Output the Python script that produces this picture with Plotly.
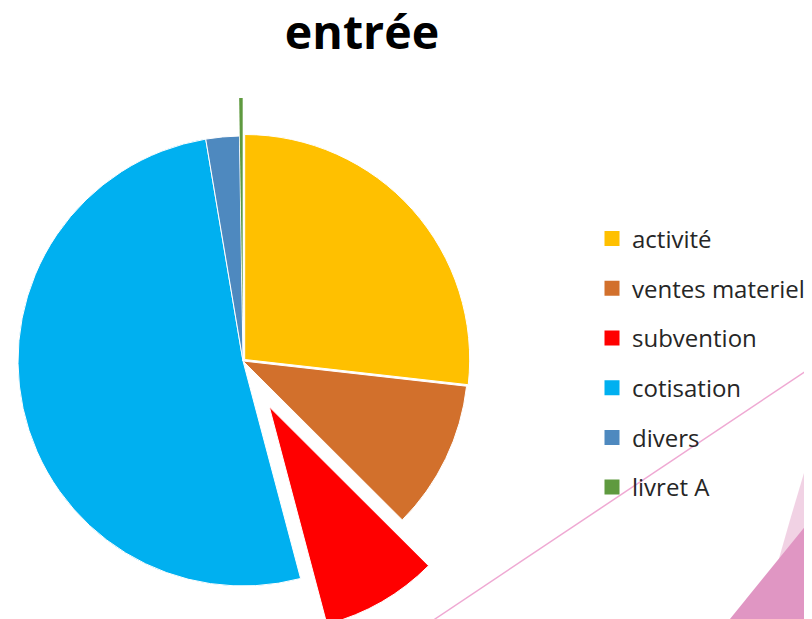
import plotly.graph_objects as go

# ---- data ----
labels = ["activité", "ventes materiel", "subvention", "cotisation", "divers", "livret A"]
values = [26.8, 10.7, 8.4, 51.5, 2.4, 0.25]
colors = ["#FFC000", "#D2702C", "#FF0000", "#00B0F0", "#4E89BF", "#5F9A3F"]
title_text = "entrée"

W, H = 812, 660          # figure a bit taller than the window: the exploded slice is cut at the bottom
OX, OY = 8, 8            # page body margin
FONT = "Open Sans"
TRANSPARENT = "rgba(0,0,0,0)"


def px(X):
    return (X - OX) / W


def py(Y):
    return 1 - (Y - OY) / H


def dom(cx, cy, half):
    """screen-pixel centre / half-size -> paper domain"""
    return dict(x=[px(cx - half), px(cx + half)], y=[py(cy + half), py(cy - half)])


def only(keep, border=1):
    cols = [c if l in keep else TRANSPARENT for l, c in zip(labels, colors)]
    lw = [border if l in keep else 0 for l in labels]
    return cols, lw


fig = go.Figure()

# main pie (slices that are not exploded; "activité" slightly pulled)
cols, lw = only(["activité", "ventes materiel", "cotisation", "divers"])
fig.add_trace(go.Pie(
    labels=labels, values=values, sort=False, direction="clockwise", rotation=0,
    marker=dict(colors=cols, line=dict(color="white", width=lw)),
    pull=[0.01, 0, 0, 0, 0, 0], textinfo="none", hoverinfo="label+value",
    showlegend=False, domain=dom(243, 361, 225 * 1.01),
))

# exploded "subvention"
cols, lw = only(["subvention"])
fig.add_trace(go.Pie(
    labels=labels, values=values, sort=False, direction="clockwise", rotation=0,
    marker=dict(colors=cols, line=dict(color="white", width=lw)),
    textinfo="none", hoverinfo="skip", showlegend=False,
    domain=dom(269.3, 406.8, 225),
))

# exploded "livret A"
cols, lw = only(["livret A"], border=0)
fig.add_trace(go.Pie(
    labels=labels, values=values, sort=False, direction="clockwise", rotation=0,
    marker=dict(colors=cols, line=dict(color="white", width=lw)),
    textinfo="none", hoverinfo="skip", showlegend=False,
    domain=dom(242.7, 323, 225),
))

# legend entries
for i, (l, c) in enumerate(zip(labels, colors)):
    fig.add_trace(go.Scatter(
        x=[None], y=[None], mode="markers", name=l, legendgroup=f"g{i}",
        marker=dict(symbol="square", size=15, color=c), hoverinfo="skip",
    ))

fig.update_xaxes(visible=False)
fig.update_yaxes(visible=False)

pink = "#EFA9D3"


def poly(pts):
    return "M " + " L ".join(f"{px(x)},{py(y)}" for x, y in pts) + " Z"


fig.update_layout(
    width=W, height=H,
    margin=dict(l=0, r=0, t=0, b=0),
    paper_bgcolor="white", plot_bgcolor="white",
    title=dict(text=f"<b>{title_text}</b>", x=px(362), xanchor="center",
               y=py(33), yanchor="middle",
               font=dict(family=FONT, size=46.5, color="black")),
    legend=dict(x=px(592), y=py(216.5), xanchor="left", yanchor="top",
                traceorder="grouped", tracegroupgap=15.5,
                font=dict(family=FONT, size=24, color="#262626"),
                bgcolor="rgba(0,0,0,0)"),
    shapes=[
        dict(type="line", xref="paper", yref="paper", x0=px(361.7), y0=py(668), x1=px(820), y1=py(361.65),
             line=dict(color=pink, width=1.5), layer="below"),
        dict(type="path", xref="paper", yref="paper", layer="below",
             path=poly([(820, 431), (807, 463), (790, 520), (770, 590), (757, 668), (820, 668)]),
             fillcolor="rgba(232,180,210,0.6)", line=dict(width=0)),
        dict(type="path", xref="paper", yref="paper", layer="below",
             path=poly([(690.2, 668), (820, 508.1), (820, 668)]),
             fillcolor="#E096C3", line=dict(width=0)),
    ],
)

fig.write_html("out.html")
